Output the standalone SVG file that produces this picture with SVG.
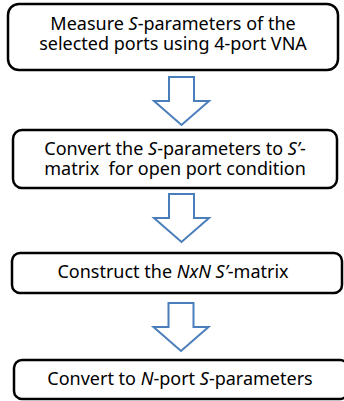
<svg xmlns="http://www.w3.org/2000/svg" width="344" height="401" viewBox="0 0 344 401">
  <style>
    .box { fill: #ffffff; stroke: #000000; stroke-width: 2.5; }
    .lbl { font-family: "Noto Sans", "Open Sans", sans-serif; font-size: 18px; fill: #000000; text-anchor: middle; }
    .it { font-style: italic; }
    .flow { fill: #ffffff; stroke: #4a7ebb; stroke-width: 2; stroke-linejoin: miter; }
  </style>
  <defs>
    <!-- hollow block arrow pointing down, origin at stem top centre -->
    <path id="down" d="M -12.5 0 H 12.5 V 24 H 27.5 L 0 48 L -27.5 24 H -12.5 Z"/>
  </defs>
  <rect width="344" height="401" fill="#ffffff"/>

  <g id="connectors">
    <use href="#down" class="flow" x="181.5" y="77"/>
    <use href="#down" class="flow" x="181.5" y="194"/>
    <use href="#down" class="flow" x="181" y="303"/>
  </g>

  <g id="step1">
    <rect class="box" x="8" y="4" width="330" height="66" rx="11"/>
    <text class="lbl" x="173" y="30">Measure <tspan class="it">S</tspan>-parameters of the</text>
    <text class="lbl" x="173" y="50">selected ports using 4-port VNA</text>
  </g>

  <g id="step2">
    <rect class="box" x="13" y="130" width="324" height="58" rx="9"/>
    <text class="lbl" x="175" y="155">Convert the <tspan class="it">S</tspan>-parameters to <tspan class="it">S’</tspan>-</text>
    <text class="lbl" x="175" y="175" xml:space="preserve">matrix  for open port condition</text>
  </g>

  <g id="step3">
    <rect class="box" x="12" y="253" width="330" height="40" rx="8"/>
    <text class="lbl" x="173" y="278">Construct the <tspan class="it">NxN S’</tspan>-matrix</text>
  </g>

  <g id="step4">
    <rect class="box" x="14" y="360" width="334" height="39" rx="8"/>
    <text class="lbl" x="180" y="385">Convert to <tspan class="it">N</tspan>-port <tspan class="it">S</tspan>-parameters</text>
  </g>
</svg>
